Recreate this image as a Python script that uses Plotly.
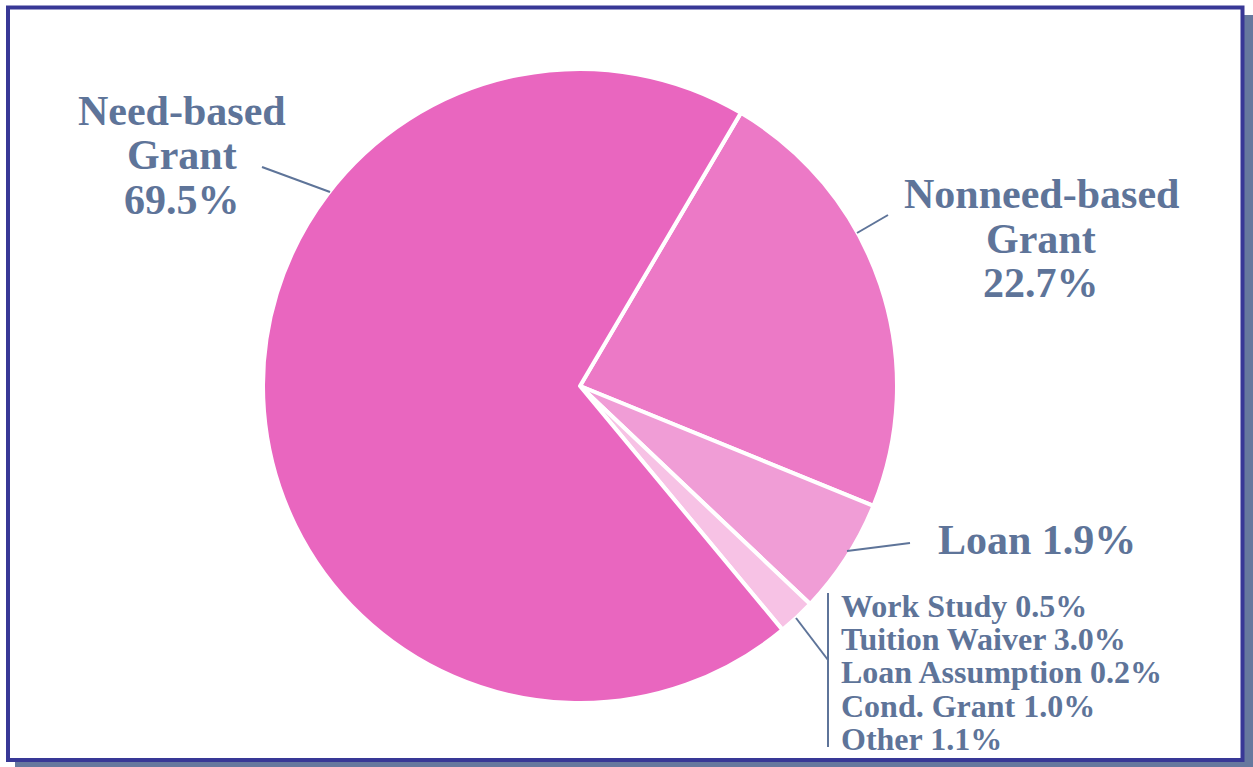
import plotly.graph_objects as go

# ---- data ----
categories = ["Nonneed-based Grant", "Loan", "Other aid", "Need-based Grant"]
slice_values = [22.7, 5.9, 1.9, 69.5]
slice_colors = ["#ec79c6", "#f09dd6", "#f7c2e5", "#e966bf"]

big_labels = {
    "Need-based Grant": ["Need-based", "Grant", "69.5%"],
    "Nonneed-based Grant": ["Nonneed-based", "Grant", "22.7%"],
}
loan_label = "Loan 1.9%"
small_labels = ["Work Study 0.5%", "Tuition Waiver 3.0%", "Loan Assumption 0.2%",
                "Cond. Grant 1.0%", "Other 1.1%"]

W, H = 1253, 767
TXT = "#5e7499"
FONT = "Liberation Serif, Times New Roman, serif"


def px(x):
    return x / W


def py(y):
    return 1 - y / H


cx, cy, r = 580, 386, 317

fig = go.Figure(go.Pie(
    labels=categories,
    values=slice_values,
    sort=False,
    direction="clockwise",
    rotation=30.5,
    marker=dict(colors=slice_colors, line=dict(color="white", width=4)),
    textinfo="none",
    hoverinfo="label+percent",
    showlegend=False,
    domain=dict(x=[px(cx - r), px(cx + r)], y=[py(cy + r), py(cy - r)]),
))

shapes = [
    # shadow
    dict(type="rect", xref="paper", yref="paper", x0=px(15), x1=px(1253), y0=py(767), y1=py(762),
         fillcolor="#66789e", line=dict(width=0), layer="below"),
    dict(type="rect", xref="paper", yref="paper", x0=px(1244), x1=px(1253), y0=py(767), y1=py(15),
         fillcolor="#66789e", line=dict(width=0), layer="below"),
    # frame
    dict(type="rect", xref="paper", yref="paper", x0=px(8), x1=px(1242.5), y0=py(760), y1=py(7.5),
         fillcolor="white", line=dict(color="#383896", width=4), layer="below"),
]

lead = dict(color=TXT, width=2)
for (x0, y0, x1, y1) in [(262, 167, 330, 192), (857, 233, 888, 215), (847, 551, 910, 543),
                         (796, 618, 828, 660), (828, 593, 828, 747)]:
    shapes.append(dict(type="line", xref="paper", yref="paper", x0=px(x0), y0=py(y0),
                       x1=px(x1), y1=py(y1), line=lead))

annotations = []


def add_text(text, x, y, size, anchor="center"):
    annotations.append(dict(text="<b>" + text + "</b>", x=px(x), y=py(y), xref="paper", yref="paper",
                            xanchor=anchor, yanchor="middle", showarrow=False,
                            font=dict(family=FONT, size=size, color=TXT)))


for i, t in enumerate(big_labels["Need-based Grant"]):
    add_text(t, 182, 111 + i * 44.5, 42)
for i, t in enumerate(big_labels["Nonneed-based Grant"]):
    add_text(t, 1041, 194 + i * 44.5, 42)
add_text(loan_label, 1037, 540, 42)
for i, t in enumerate(small_labels):
    add_text(t, 839, 606 + i * 33.2, 32, anchor="left")

fig.update_layout(
    width=W, height=H,
    margin=dict(l=0, r=0, t=0, b=0),
    paper_bgcolor="white", plot_bgcolor="white",
    shapes=shapes, annotations=annotations,
)

fig.write_html("out.html", config={"displayModeBar": False},
               post_script="document.body.style.margin='0px';document.body.style.overflow='hidden';")
